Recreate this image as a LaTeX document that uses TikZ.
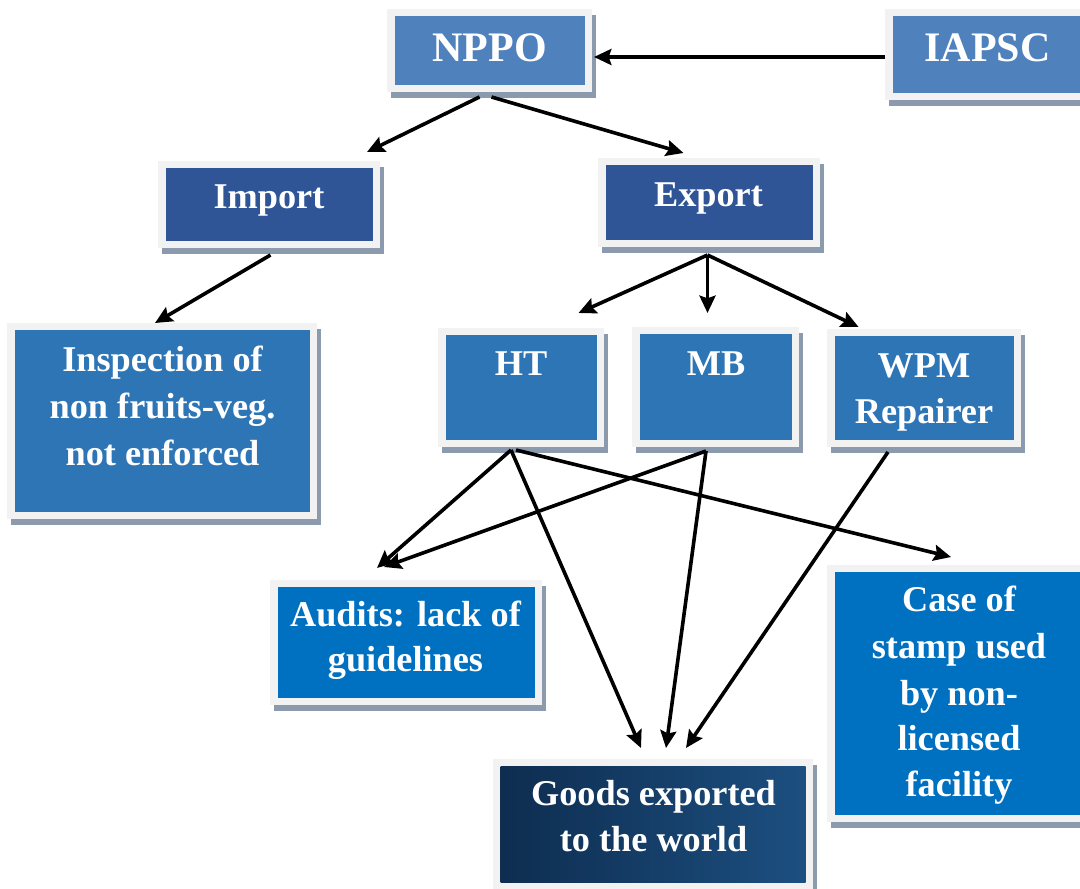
\documentclass[tikz,border=0pt]{standalone}
\usepackage{fontspec}
\setmainfont{Liberation Serif}
\usetikzlibrary{arrows.meta,calc,fit,shadows}
\definecolor{framec}{HTML}{F2F2F2}
\definecolor{shadowc}{HTML}{8C9AAD}
\definecolor{topc}{HTML}{4F81BD}
\definecolor{midc}{HTML}{2F5597}
\definecolor{lowc}{HTML}{2E75B6}
\definecolor{brightc}{HTML}{0070C0}
\definecolor{goodsl}{HTML}{0E2D50}
\definecolor{goodsr}{HTML}{1C4F80}
\newcommand\pbox[6]{%
  \node[framebox, fit={(#2,#3) (#4,#5)}] (#1) {};
  \node[innerbox, #6, fit={(#2+7.5,#3+7) (#4-7.5,#5-7)}] (#1in) {};
}
\begin{document}
\begin{tikzpicture}[x=0.75pt,y=-0.75pt,
  framebox/.style={rectangle, inner sep=0pt, outer sep=0pt, fill=framec,
    drop shadow={shadow xshift=3pt, shadow yshift=-4.5pt, fill=shadowc, opacity=1}},
  innerbox/.style={rectangle, inner sep=0pt, outer sep=0pt},
  txt/.style={text=white, font=\fontsize{27.2}{31}\selectfont\bfseries, anchor=base, inner sep=0pt},
  bigtxt/.style={txt, font=\fontsize{31.5}{36}\selectfont\bfseries},
  arr/.style={draw=black, line width=2.7pt, -{Stealth[length=13pt,width=12pt,inset=2pt]}}]
\useasboundingbox (0,0) rectangle (1080,888);
\clip (0,0) rectangle (1080,888);
% boxes
\pbox{nppo}{387}{9}{592}{92}{fill=topc}
\pbox{iapsc}{885}{9}{1090}{100}{fill=topc}
\pbox{import}{158}{161}{380}{248}{fill=midc}
\pbox{export}{598}{158}{820}{247}{fill=midc}
\pbox{ht}{438}{328}{604}{447}{fill=lowc}
\pbox{mb}{632}{327}{799}{447}{fill=lowc}
\pbox{wpm}{827}{329}{1021}{447}{fill=lowc}
\pbox{insp}{7}{323}{317}{519}{fill=lowc}
\pbox{audits}{270}{580}{542}{705}{fill=brightc}
\pbox{case}{827}{565}{1091}{822}{fill=brightc}
\pbox{goods}{493}{759}{813}{889}{left color=goodsl, right color=goodsr}
% texts
\node[bigtxt] (tnppo) at (489.5,62) {NPPO};
\node[bigtxt] (tiapsc) at (987.5,61.7) {IAPSC};
\node[txt] (timport) at (269,208) {Import};
\node[txt] (texport) at (708.5,206) {Export};
\node[txt] (tht) at (521,375) {HT};
\node[txt] (tmb) at (716,375) {MB};
\node[txt] (twpma) at (924,377) {WPM};
\node[txt] (twpmb) at (924,423) {Repairer};
\node[txt] (tinspa) at (162.5,371) {Inspection of};
\node[txt] (tinspb) at (162.5,418) {non fruits-veg.};
\node[txt] (tinspc) at (162.5,465) {not enforced};
\node[txt] (tauda) at (405.5,626.7) {Audits: lack of};
\node[txt] (taudb) at (405.5,671.7) {guidelines};
\node[txt] (tcasea) at (959,611.7) {Case of};
\node[txt] (tcaseb) at (959,658) {stamp used};
\node[txt] (tcasec) at (959,705) {by non-};
\node[txt] (tcased) at (959,750) {licensed};
\node[txt] (tcasee) at (959,796.7) {facility};
\node[txt] (tgoodsa) at (653.5,805) {Goods exported};
\node[txt] (tgoodsb) at (653.5,851.7) {to the world};
% connectors
\draw[arr] ($(iapsc.west)+(0,2.5)$) -- ($(nppo.east)+(2,6.5)$);
\draw[arr] ($(nppo.south)+(-10,5)$) -- ($(import.north)+(98,-9)$);
\draw[arr] ($(nppo.south)+(2,5)$) -- ($(export.north)+(-25.5,-5)$);
\draw[arr] ($(export.south)+(-1.5,8)$) -- ($(ht.north)+(57.5,-15)$);
\draw[arr] ($(export.south)+(-1.5,8)$) -- ($(mb.north)+(-8,-14)$);
\draw[arr] ($(export.south)+(-1.5,8)$) -- ($(wpm.north)+(-65.4,-2)$);
\draw[arr] ($(import.south)+(1.5,7)$) -- ($(insp.north)+(-7,0)$);
\draw[arr] ($(ht.south)+(-10,3)$) -- ($(audits.north)+(-29,-12)$);
\draw[arr] ($(ht.south)+(-10,3)$) -- ($(goods.north)+(-12,-11)$);
\draw[arr] ($(ht.south)+(-5,3)$) -- ($(case.north)+(-8,-8)$);
\draw[arr] ($(mb.south)+(-9.5,4)$) -- ($(audits.north)+(-22,-13)$);
\draw[arr] ($(mb.south)+(-9.5,4)$) -- ($(goods.north)+(13,-11)$);
\draw[arr] ($(wpm.south)+(-36,5)$) -- ($(goods.north)+(33,-11)$);
\end{tikzpicture}
\end{document}
